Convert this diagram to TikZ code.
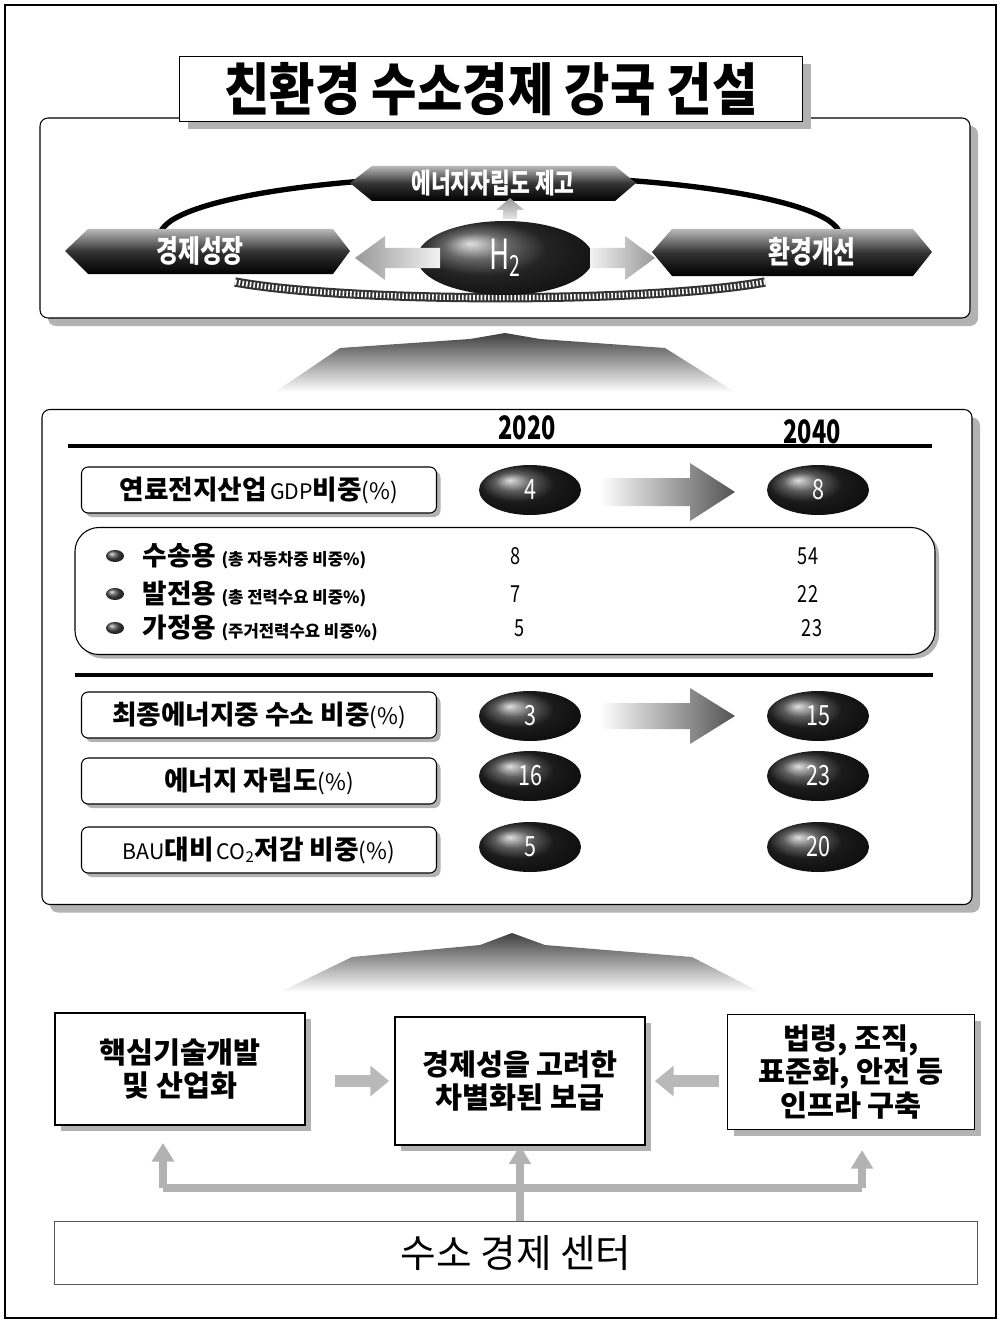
\documentclass[tikz,border=0pt]{standalone}
\usepackage{fontspec}
\setmainfont{Noto Sans CJK KR}
\newfontfamily\kr{Noto Sans CJK KR}
\usetikzlibrary{shapes.geometric,shadows,arrows.meta,calc}
\tikzset{
 sz/.style 2 args={minimum width=#1*0.75pt, minimum height=#2*0.75pt, inner sep=0pt},
 shd/.style={general shadow={fill=gray!60, shadow xshift=#1*0.75pt, shadow yshift=-#1*0.75pt}},
 panelbox/.style={draw=black, line width=0.8pt, fill=white, rounded corners=6pt},
 labelbox/.style={draw=black, line width=0.8pt, fill=white, rounded corners=5pt, sz={355}{46}, shd=4},
 valell/.style={ellipse, sz={102}{50}, shading=ball, ball color=black!85, text=white, font=\kr\fontsize{19}{20}\selectfont},
 bannertext/.style={text=white, font=\kr\bfseries\fontsize{19}{20}\selectfont},
 banner/.style={top color=gray!55, bottom color=black, middle color=black!80},
 bigarr/.style={left color=white, right color=gray!65!black},
 numtxt/.style={font=\kr\fontsize{16}{18}\selectfont},
 bar/.style={draw=gray!60, line width=6pt},
 uparr/.style={bar, -{Triangle[width=16pt,length=14pt]}},
 harr/.style={draw=gray!55, line width=9pt, -{Triangle[width=22pt,length=14pt]}},
 bottombox/.style={draw=black, line width=0.8pt, fill=white, align=center, font=\kr\bfseries\fontsize{22}{25}\selectfont},
 bul/.style={ellipse, sz={18}{12}, shading=ball, ball color=black!70},
}
\newcommand\cond[1]{\scalebox{0.85}[1.1]{#1}}
\begin{document}
\begin{tikzpicture}[x=0.75pt,y=-0.75pt]
\useasboundingbox (0,0) rectangle (1001,1323);
\draw[line width=0.8pt] (5,5) rectangle (996,1318);

% ---------- top panel ----------
\node[panelbox, sz={930}{200}, shd=8] (top) at (505,218) {};
\node[draw, line width=0.8pt, fill=white, sz={623}{65}, shd=8, font=\kr\bfseries\fontsize{37}{38}\selectfont] (title) at (491,89) {\scalebox{1}[1.15]{친환경 수소경제 강국 건설}};

% cycle
\draw[line width=4pt] (160,236) arc[start angle=180, end angle=360, x radius=340, y radius=60];
\draw[line width=7pt, black!80] (235,282) .. controls (350,303) and (650,303) .. (765,282);
\draw[line width=4pt, white, dash pattern=on 1.2pt off 1.6pt] (235,282) .. controls (350,303) and (650,303) .. (765,282);

% banners
\shade[banner] (350,183) -- (372,166) -- (615,166) -- (636,183) -- (615,201) -- (372,201) -- cycle;
\node[bannertext] (energy) at (493,183) {\cond{에너지자립도 제고}};
\shade[banner] (65,251) -- (88,229) -- (333,229) -- (350,251) -- (333,274) -- (88,274) -- cycle;
\node[bannertext, font=\kr\bfseries\fontsize{21}{22}\selectfont] (growth) at (200,251) {\cond{경제성장}};
\shade[banner] (652,252) -- (672,229) -- (913,229) -- (932,252) -- (913,276) -- (672,276) -- cycle;
\node[bannertext, font=\kr\bfseries\fontsize{21}{22}\selectfont] (envr) at (812,252) {\cond{환경개선}};

% H2
\node[ellipse, sz={176}{74}, shading=ball, ball color=black!80, text=white, font=\kr\fontsize{26}{28}\selectfont] (h2) at (505,258) {\scalebox{0.8}[1.2]{H\textsubscript{2}}};
\shade[left color=gray!80, right color=gray!10] (355,258) -- (385,236) -- (385,248) -- (440,248) -- (440,268) -- (385,268) -- (385,280) -- cycle;
\shade[left color=gray!10, right color=gray!80] (590,248) -- (625,248) -- (625,236) -- (655,258) -- (625,280) -- (625,268) -- (590,268) -- cycle;
\shade[top color=gray!80, bottom color=gray!20] (510,198) -- (524,210) -- (517,210) -- (517,219) -- (503,219) -- (503,210) -- (496,210) -- cycle;

% fans
\shade[top color=black!75, bottom color=white] (340,348) -- (470,339) -- (505,333) -- (540,339) -- (665,348) -- (735,392) -- (275,392) -- cycle;
\shade[top color=black!75, bottom color=white] (352,957) -- (480,945) -- (512,933) -- (545,945) -- (692,957) -- (760,992) -- (280,992) -- cycle;

% ---------- middle panel ----------
\node[panelbox, sz={930}{495}, shd=8] (mid) at (507,657) {};
\node[font=\kr\bfseries\fontsize{22}{24}\selectfont] (y2020) at (527,428) {\scalebox{0.8}[1.1]{2020}};
\node[font=\kr\bfseries\fontsize{22}{24}\selectfont] (y2040) at (812,432) {\scalebox{0.8}[1.1]{2040}};
\draw[line width=2.5pt] (68,446) -- (932,446);

\node[labelbox] (r1) at (259,490) {{\bfseries\fontsize{20}{22}\selectfont 연료전지산업} {\fontsize{16}{18}\selectfont GDP}{\bfseries\fontsize{20}{22}\selectfont 비중}{\fontsize{17}{18}\selectfont(\%)}};
\node[valell] (v1a) at (530,490) {\cond{4}};
\node[valell] (v1b) at (818,490) {\cond{8}};
\shade[bigarr] (600,478) -- (690,478) -- (690,463) -- (735,492) -- (690,521) -- (690,506) -- (600,506) -- cycle;

\node[draw, line width=0.8pt, fill=white, rounded corners=18pt, sz={860}{127}, shd=4] (sub) at (505,591) {};
\node[bul] (bu1) at (115,556) {};
\node[bul] (bu2) at (115,594) {};
\node[bul] (bu3) at (115,628) {};
\node[anchor=west, font=\kr] (s1) at (138,556) {{\bfseries\fontsize{20}{22}\selectfont 수송용}\, {\bfseries\fontsize{12.5}{14}\selectfont (총 자동차중 비중\%)}};
\node[anchor=west, font=\kr] (s2) at (138,594) {{\bfseries\fontsize{20}{22}\selectfont 발전용}\, {\bfseries\fontsize{12.5}{14}\selectfont (총 전력수요 비중\%)}};
\node[anchor=west, font=\kr] (s3) at (138,628) {{\bfseries\fontsize{20}{22}\selectfont 가정용}\, {\bfseries\fontsize{12.5}{14}\selectfont (주거전력수요 비중\%)}};
\node[numtxt] (n1a) at (516,556) {\cond{8}};
\node[numtxt] (n1b) at (808,556) {\cond{54}};
\node[numtxt] (n2a) at (516,594) {\cond{7}};
\node[numtxt] (n2b) at (808,594) {\cond{22}};
\node[numtxt] (n3a) at (520,628) {\cond{5}};
\node[numtxt] (n3b) at (812,628) {\cond{23}};

\draw[line width=2.5pt] (75,675) -- (933,675);

\node[labelbox, font=\kr] (r2) at (259,715) {{\bfseries\fontsize{20}{22}\selectfont 최종에너지중 수소 비중}{\fontsize{17}{18}\selectfont(\%)}};
\node[valell] (v2a) at (530,716) {\cond{3}};
\node[valell] (v2b) at (818,716) {\cond{15}};
\shade[bigarr] (600,703) -- (690,703) -- (690,688) -- (735,716) -- (690,744) -- (690,729) -- (600,729) -- cycle;

\node[labelbox, font=\kr] (r3) at (259,781) {{\bfseries\fontsize{20}{22}\selectfont 에너지 자립도}{\fontsize{17}{18}\selectfont(\%)}};
\node[valell] (v3a) at (530,776) {\cond{16}};
\node[valell] (v3b) at (818,776) {\cond{23}};

\node[labelbox, font=\kr] (r4) at (259,850) {{\fontsize{16}{18}\selectfont BAU}{\bfseries\fontsize{20}{22}\selectfont 대비} {\fontsize{16}{18}\selectfont CO\textsubscript{2}}{\bfseries\fontsize{20}{22}\selectfont 저감 비중}{\fontsize{17}{18}\selectfont(\%)}};
\node[valell] (v4a) at (530,847) {\cond{5}};
\node[valell] (v4b) at (818,847) {\cond{20}};

% ---------- bottom ----------
\node[bottombox, sz={250}{112}, shd=6] (bx1) at (180,1069) {핵심기술개발\\및 산업화};
\node[bottombox, sz={250}{128}, shd=6] (bx2) at (520,1081) {경제성을 고려한\\차별화된 보급};
\node[bottombox, sz={247}{115}, shd=6] (bx3) at (851,1072) {법령, 조직,\\표준화, 안전 등\\인프라 구축};

\draw[harr, shorten <=22pt, shorten >=4pt] (bx1.east |- bx2.west) -- (bx2.west);
\draw[harr, shorten <=6pt, shorten >=7pt] (bx3.west |- bx2.east) -- (bx2.east);

\node[draw=gray!70!black, line width=0.6pt, fill=white, sz={923}{63}, font=\kr\fontsize{29}{30}\selectfont] (centre) at (516,1253) {수소 경제 센터};

\coordinate (jl) at (163,1188);
\coordinate (jr) at (862,1188);
\draw[bar] (jl) -- (jr);
\draw[uparr, shorten >=13pt] (jl) -- (jl |- bx1.south);
\draw[uparr, shorten >=15pt] (jr) -- (jr |- bx3.south);
\draw[uparr] (centre.north -| bx2.south) -- (bx2.south);
\end{tikzpicture}
\end{document}
